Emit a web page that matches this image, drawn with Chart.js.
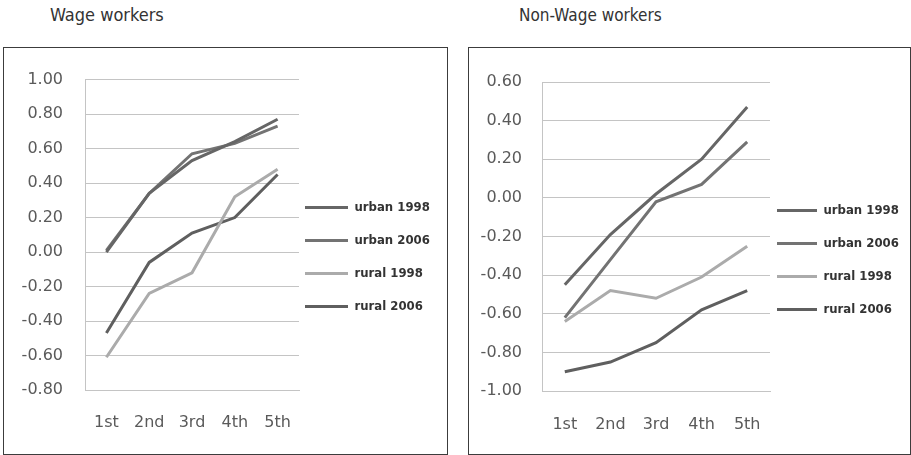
<!DOCTYPE html>
<html><head><meta charset="utf-8">
<script src="https://cdn.jsdelivr.net/npm/chart.js@4/dist/chart.umd.min.js"></script>
<style>
html,body{margin:0;padding:0;background:#fff;}
body{width:911px;height:455px;position:relative;overflow:hidden;}
.title{position:absolute;top:4px;font-family:"DejaVu Sans Condensed","Liberation Sans Narrow",sans-serif;font-size:18px;color:#333;white-space:nowrap;}
.box{position:absolute;top:47px;height:406px;border:1px solid #3c3c3c;}
.box canvas{display:block;}
</style></head><body>
<div class="title" style="left:50px">Wage workers</div>
<div class="title" style="left:519px;font-size:17px;top:5px">Non-Wage workers</div>
<div class="box" style="left:3px;width:443px"><canvas id="c1" width="443" height="406"></canvas></div>
<div class="box" style="left:468px;width:441px"><canvas id="c2" width="441" height="406"></canvas></div>
<script>
// ---- data ----
const quintiles = ['1st', '2nd', '3rd', '4th', '5th'];
const seriesNames = ['urban 1998', 'urban 2006', 'rural 1998', 'rural 2006'];

const wageUrban1998 = [0.00, 0.34, 0.53, 0.64, 0.77];
const wageUrban2006 = [0.01, 0.34, 0.57, 0.63, 0.73];
const wageRural1998 = [-0.61, -0.24, -0.12, 0.32, 0.48];
const wageRural2006 = [-0.47, -0.06, 0.11, 0.20, 0.45];

const nonWageUrban1998 = [-0.45, -0.19, 0.02, 0.20, 0.47];
const nonWageUrban2006 = [-0.62, -0.32, -0.02, 0.07, 0.29];
const nonWageRural1998 = [-0.64, -0.48, -0.52, -0.41, -0.25];
const nonWageRural2006 = [-0.90, -0.85, -0.75, -0.58, -0.48];

const wageTickValues = [-0.8, -0.6, -0.4, -0.2, 0, 0.2, 0.4, 0.6, 0.8, 1.0];
const wageTickLabels = ['-0.80', '-0.60', '-0.40', '-0.20', '0.00', '0.20', '0.40', '0.60', '0.80', '1.00'];
const nonWageTickValues = [-1.0, -0.8, -0.6, -0.4, -0.2, 0, 0.2, 0.4, 0.6];
const nonWageTickLabels = ['-1.00', '-0.80', '-0.60', '-0.40', '-0.20', '0.00', '0.20', '0.40', '0.60'];

// ---- styles ----
const seriesColors = ['#666666', '#737373', '#ababab', '#5f5f5f'];
const gridColor = '#c4c4c4';
const tickFont = { family: '"DejaVu Sans", Verdana, sans-serif', size: 16 };
const tickColor = '#5a5a5a';

const legendShift = {
  id: 'legendShift',
  afterLayout(chart, args, opts) {
    const lg = chart.legend;
    if (!lg) return;
    lg.left += opts.dx;
    lg.width = lg.right - lg.left;
    lg.top += opts.dy; lg.bottom += opts.dy;
  }
};

function makeChart(id, seriesData, tickValues, tickLabels, geo) {
  const datasets = seriesData.map((d, i) => ({
    label: seriesNames[i],
    data: d,
    borderColor: seriesColors[i],
    backgroundColor: seriesColors[i],
    borderWidth: 3,
    pointRadius: 0,
    pointHoverRadius: 0,
    tension: 0,
    fill: false
  }));
  return new Chart(document.getElementById(id), {
    type: 'line',
    data: { labels: quintiles, datasets },
    plugins: [legendShift],
    options: {
      responsive: false,
      animation: false,
      events: [],
      layout: { padding: { top: geo.top, left: 0, right: 0, bottom: 0 } },
      plugins: {
        tooltip: { enabled: false },
        legendShift: { dx: geo.dx, dy: geo.dy },
        legend: {
          position: 'right',
          align: 'center',
          maxWidth: geo.legendW,
          labels: {
            usePointStyle: true,
            pointStyle: 'line',
            pointStyleWidth: geo.lineW,
            padding: 20,
            color: '#333333',
            font: { family: '"DejaVu Sans Condensed", "DejaVu Sans", sans-serif', size: 13, weight: 'bold' }
          }
        }
      },
      scales: {
        x: {
          type: 'category',
          offset: true,
          grid: { display: false, drawTicks: false },
          border: { display: true, color: gridColor, width: 1 },
          ticks: { font: tickFont, color: tickColor, padding: geo.xPad, maxRotation: 0, autoSkip: false },
          afterFit(scale) { scale.height = geo.xH; }
        },
        y: {
          min: tickValues[0],
          max: tickValues[tickValues.length - 1],
          grid: { color: gridColor, lineWidth: 1, drawTicks: false },
          border: { display: true, color: gridColor, width: 1 },
          afterBuildTicks(scale) { scale.ticks = tickValues.map(v => ({ value: v })); },
          ticks: {
            font: tickFont, color: tickColor, padding: geo.yPad,
            callback(value, index) { return tickLabels[index]; }
          },
          afterFit(scale) { scale.width = geo.yW; }
        }
      }
    }
  });
}

makeChart('c1', [wageUrban1998, wageUrban2006, wageRural1998, wageRural2006],
  wageTickValues, wageTickLabels,
  { top: 30, xH: 64, yW: 81, legendW: 148, lineW: 43, dx: -14, dy: -9, xPad: 23, yPad: 22 });

makeChart('c2', [nonWageUrban1998, nonWageUrban2006, nonWageRural1998, nonWageRural2006],
  nonWageTickValues, nonWageTickLabels,
  { top: 34, xH: 63, yW: 73, legendW: 140, lineW: 40, dx: -13, dy: -8, xPad: 24, yPad: 20 });
</script>
</body></html>
